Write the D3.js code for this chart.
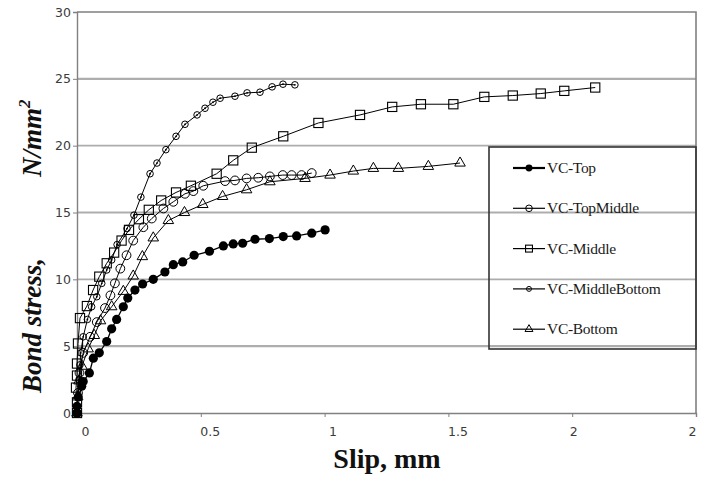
<!DOCTYPE html>
<html>
<head>
<meta charset="utf-8">
<script src="https://cdn.jsdelivr.net/npm/d3@7"></script>
<style>
  body { margin: 0; background: #fff; }
  svg { display: block; }
</style>
</head>
<body>
<div id="chart"></div>
<script>
// slip (mm), bond stress (N/mm2)
const vcTop = [
  [0, 0], [0, 0.5], [0.005, 1.2], [0.019, 2.0], [0.025, 2.35], [0.05, 3.0],
  [0.066, 4.1], [0.09, 4.5], [0.12, 5.35], [0.14, 6.3], [0.16, 7.0], [0.187, 7.95],
  [0.205, 8.6], [0.234, 9.2], [0.265, 9.65], [0.308, 10.0], [0.355, 10.55],
  [0.389, 11.1], [0.427, 11.3], [0.473, 11.8], [0.535, 12.1], [0.591, 12.5],
  [0.631, 12.65], [0.669, 12.7], [0.719, 13.0], [0.777, 13.05], [0.833, 13.2],
  [0.887, 13.25], [0.948, 13.45], [1.002, 13.7]
];
const vcTopMiddle = [
  [0, 0], [0.004, 1.5], [0.01, 3.0], [0.025, 4.5], [0.053, 5.7], [0.08, 6.8],
  [0.113, 7.85], [0.135, 8.8], [0.153, 9.7], [0.175, 10.8], [0.2, 11.8],
  [0.227, 12.9], [0.268, 13.9], [0.302, 14.55], [0.349, 15.3], [0.389, 15.8],
  [0.436, 16.4], [0.47, 16.6], [0.51, 17.0], [0.598, 17.35], [0.638, 17.4],
  [0.685, 17.55], [0.732, 17.6], [0.779, 17.7], [0.831, 17.8], [0.867, 17.8],
  [0.907, 17.8], [0.948, 17.95]
];
const vcMiddle = [
  [0, 0], [0, 0.8], [-0.004, 1.9], [0, 2.8], [0, 3.7], [0.004, 5.2], [0.012, 7.1],
  [0.04, 8.0], [0.065, 9.2], [0.09, 10.2], [0.12, 11.2], [0.15, 12.0], [0.18, 12.9],
  [0.21, 13.7], [0.25, 14.5], [0.29, 15.2], [0.34, 15.9], [0.4, 16.5], [0.46, 17.0],
  [0.564, 17.9], [0.631, 18.9], [0.706, 19.85], [0.833, 20.7], [0.975, 21.7],
  [1.143, 22.3], [1.273, 22.9], [1.389, 23.1], [1.52, 23.1], [1.645, 23.65],
  [1.76, 23.75], [1.873, 23.9], [1.968, 24.1], [2.093, 24.35]
];
const vcMiddleBottom = [
  [0, 0], [0.004, 1.2], [0.008, 2.5], [0.012, 3.6], [0.015, 4.5], [0.025, 5.7],
  [0.042, 7.0], [0.059, 7.95], [0.08, 8.7], [0.1, 9.7], [0.12, 10.7], [0.14, 11.45],
  [0.162, 12.6], [0.202, 13.8], [0.23, 14.8], [0.258, 16.15], [0.295, 17.9],
  [0.323, 18.7], [0.359, 19.7], [0.4, 20.7], [0.436, 21.6], [0.485, 22.3],
  [0.517, 22.8], [0.549, 23.25], [0.578, 23.55], [0.638, 23.7], [0.687, 23.95],
  [0.739, 24.0], [0.788, 24.4], [0.832, 24.6], [0.88, 24.55]
];
const vcBottom = [
  [0, 0], [0.003, 1.2], [0.008, 2.4], [0.02, 3.5], [0.045, 4.8], [0.07, 5.8],
  [0.095, 6.9], [0.14, 7.95], [0.187, 9.1], [0.227, 10.25], [0.264, 11.7],
  [0.308, 13.1], [0.369, 14.4], [0.434, 15.0], [0.508, 15.6], [0.588, 16.2],
  [0.685, 16.7], [0.779, 17.3], [0.921, 17.55], [1.022, 17.8], [1.116, 18.1],
  [1.197, 18.3], [1.298, 18.3], [1.419, 18.45], [1.547, 18.7]
];

const seriesNames = ["VC-Top", "VC-TopMiddle", "VC-Middle", "VC-MiddleBottom", "VC-Bottom"];
const seriesValues = [vcTop, vcTopMiddle, vcMiddle, vcMiddleBottom, vcBottom];
const markerKinds = ["dot", "circle", "square", "smallCircle", "triangle"];

const xTicks = [0, 0.5, 1, 1.5, 2, 2.5];
const xTickLabels = ["0", "0.5", "1", "1.5", "2", "2"];
const yTicks = [0, 5, 10, 15, 20, 25, 30];

// layout
const width = 709, height = 487;
const plot = { left: 77, right: 696, top: 12, bottom: 413 };
const xLabelNudge = [8, 9, 8, 9, 1, -4];

const svg = d3.select("#chart").append("svg")
  .attr("width", width)
  .attr("height", height);

const x = d3.scaleLinear().domain([0, 2.5]).range([plot.left, plot.right]);
const y = d3.scaleLinear().domain([0, 30]).range([plot.bottom, plot.top]);

// grid lines
svg.append("g")
  .selectAll("line")
  .data(yTicks.filter(d => d > 0 && d < 30))
  .enter()
  .append("line")
  .attr("x1", plot.left)
  .attr("x2", plot.right)
  .attr("y1", d => y(d))
  .attr("y2", d => y(d))
  .attr("stroke", "#adadad")
  .attr("stroke-width", d => (d % 10 === 5 ? 2.2 : 1.6));

// plot frame (top and right)
svg.append("path")
  .attr("d", `M${plot.left},${y(30)}H${plot.right}V${plot.bottom}`)
  .attr("fill", "none")
  .attr("stroke", "#808080")
  .attr("stroke-width", 1.6);

// axes
const yAxis = svg.append("g")
  .attr("transform", `translate(${plot.left},0)`)
  .call(d3.axisLeft(y).tickValues(yTicks).tickSize(4).tickPadding(2).tickFormat(d3.format("d")));
yAxis.select(".domain").attr("stroke", "#808080").attr("stroke-width", 1.4);
yAxis.selectAll("line").attr("stroke", "#808080");
yAxis.selectAll("text")
  .attr("font-family", "DejaVu Sans")
  .attr("font-size", 12.5)
  .attr("fill", "#3b3b3b");

const xAxis = svg.append("g")
  .attr("transform", `translate(0,${plot.bottom})`)
  .call(d3.axisBottom(x).tickValues(xTicks).tickSize(4).tickPadding(10)
    .tickFormat((d, i) => xTickLabels[i]));
xAxis.select(".domain").attr("stroke", "#808080").attr("stroke-width", 1.4);
xAxis.selectAll("line").attr("stroke", "#808080");
xAxis.selectAll("text")
  .attr("dx", (d, i) => xLabelNudge[i])
  .attr("font-family", "DejaVu Sans")
  .attr("font-size", 12.5)
  .attr("fill", "#3b3b3b");

// markers
function drawMarker(g, kind, scale) {
  const s = scale || 1;
  if (kind === "dot") {
    g.append("circle").attr("r", 4.6 * s).attr("fill", "#000");
  } else if (kind === "circle") {
    g.append("circle").attr("r", 4.4 * s)
      .attr("fill", "none").attr("stroke", "#000").attr("stroke-width", 1);
  } else if (kind === "smallCircle") {
    g.append("circle").attr("r", 3.3 * s)
      .attr("fill", "none").attr("stroke", "#000").attr("stroke-width", 1);
    g.append("circle").attr("r", 0.9 * s).attr("fill", "#000");
  } else if (kind === "square") {
    const h = 4.6 * s;
    g.append("rect").attr("x", -h).attr("y", -h).attr("width", 2 * h).attr("height", 2 * h)
      .attr("fill", "none").attr("stroke", "#000").attr("stroke-width", 1.1);
  } else if (kind === "triangle") {
    g.append("path")
      .attr("d", d3.symbol().type(d3.symbolTriangle).size(48 * s * s))
      .attr("fill", "none").attr("stroke", "#000").attr("stroke-width", 1);
  }
}

const line = d3.line().x(d => x(d[0])).y(d => y(d[1]));

seriesValues.forEach((vals, i) => {
  const g = svg.append("g").attr("class", "series");
  g.append("path")
    .datum(vals)
    .attr("d", line)
    .attr("fill", "none")
    .attr("stroke", "#000")
    .attr("stroke-width", i === 0 ? 1.3 : 1);

  g.selectAll("g.mark")
    .data(vals)
    .enter()
    .append("g")
    .attr("class", "mark")
    .attr("transform", d => `translate(${x(d[0])},${y(d[1])})`)
    .each(function () { drawMarker(d3.select(this), markerKinds[i]); });
});

// legend
const legend = { x: 489, y: 147, w: 207, h: 202, rowTop: 168, rowStep: 40.3 };
svg.append("rect")
  .attr("x", legend.x)
  .attr("y", legend.y)
  .attr("width", legend.w)
  .attr("height", legend.h)
  .attr("fill", "none")
  .attr("stroke", "#333")
  .attr("stroke-width", 1.6);

seriesNames.forEach((name, i) => {
  const row = svg.append("g")
    .attr("transform", `translate(0,${legend.rowTop + i * legend.rowStep})`);
  row.append("line")
    .attr("x1", 513).attr("x2", 545)
    .attr("stroke", "#000")
    .attr("stroke-width", i === 0 ? 2.2 : 1.2);
  const m = row.append("g").attr("transform", "translate(529,0)");
  drawMarker(m, markerKinds[i], 0.75);
  row.append("text")
    .attr("x", 547)
    .attr("y", 5)
    .attr("font-family", "Liberation Serif")
    .attr("font-size", 15.5)
    .attr("letter-spacing", -0.3)
    .attr("fill", "#1a1a1a")
    .text(name);
});

// axis titles
svg.append("text")
  .attr("x", 387)
  .attr("y", 468)
  .attr("text-anchor", "middle")
  .attr("font-family", "Liberation Serif")
  .attr("font-weight", "bold")
  .attr("font-size", 28)
  .attr("fill", "#111")
  .text("Slip, mm");

svg.append("text")
  .attr("transform", "translate(41,393) rotate(-90)")
  .attr("font-family", "Liberation Serif")
  .attr("font-weight", "bold")
  .attr("font-style", "italic")
  .attr("font-size", 27)
  .attr("fill", "#111")
  .text("Bond stress,");

const unit = svg.append("text")
  .attr("transform", "translate(41,177) rotate(-90)")
  .attr("font-family", "Liberation Serif")
  .attr("font-weight", "bold")
  .attr("font-style", "italic")
  .attr("font-size", 27)
  .attr("fill", "#111");
unit.append("tspan").text("N/mm");
unit.append("tspan").attr("dy", -11).attr("font-size", 17).text("2");
</script>
</body>
</html>
